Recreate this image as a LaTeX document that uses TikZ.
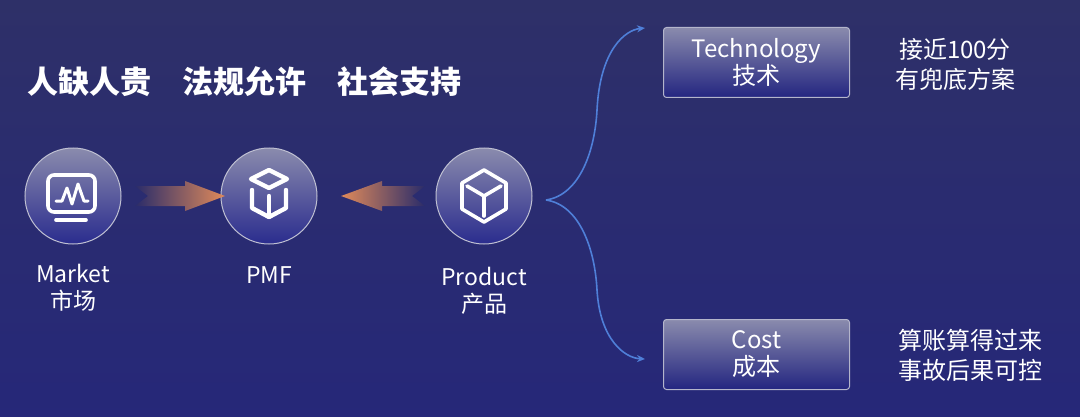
\documentclass[tikz,border=0pt]{standalone}
\usepackage{fontspec}
\setmainfont{Noto Sans CJK SC}
\usetikzlibrary{arrows.meta}
\definecolor{bg}{HTML}{2A2C6A}
\definecolor{bgtop}{HTML}{2E3068}
\definecolor{orng}{HTML}{E08A5A}
\definecolor{lnk}{HTML}{4F7FD8}
\begin{document}
\begin{tikzpicture}[x=0.5pt,y=-0.5pt,
  circ/.style={circle,minimum size=48pt,inner sep=0pt,draw=white!70!bg,line width=0.5pt,top color=white!45!bg,bottom color=white!5!bg!80!blue},
  box/.style={rectangle,rounded corners=1.5pt,minimum width=93pt,minimum height=35pt,draw=white!65!bg,line width=0.5pt,top color=white!45!bg,bottom color=bg!85!blue,align=center,text=white,font=\fontsize{12}{13.5}\selectfont},
  lab/.style={text=white,align=center,font=\fontsize{11.5}{13.5}\selectfont},
  note/.style={text=white,align=center,font=\fontsize{12}{15}\selectfont},
  icon/.style={draw=white,line width=1.8pt,line join=round,line cap=round},
  link/.style={draw=lnk,line width=0.8pt,-{Stealth[length=4pt,width=3.5pt]}}]
\useasboundingbox (0,0) rectangle (1080,417);
\shade[top color=bgtop,bottom color=bg!90!blue] (0,0) rectangle (1080,417);
\node[text=white,font=\fontsize{15.5}{17}\bfseries\selectfont,anchor=west] (title) at (20,82) {人缺人贵\quad 法规允许\quad 社会支持};
\node[circ] (m) at (73,196) {};
\node[circ] (p) at (269,196) {};
\node[circ] (r) at (484,196) {};
\node[lab] (ml) at (73,288) {Market\\市场};
\node[lab] (pl) at (269,275) {PMF};
\node[lab] (rl) at (484,291) {Product\\产品};
% market icon
\draw[icon,rounded corners=3pt] (48,175) rectangle (95,212);
\draw[icon,line width=1.5pt] (56,201) -- (62,201) -- (67,188) -- (72,204) -- (78,184) -- (84,201) -- (88,201);
\draw[icon] (56,220) -- (86,220);
% PMF icon (open box)
\draw[icon,line width=2.2pt] (269,170) -- (287,179) -- (269,188) -- (251,179) -- cycle;
\draw[icon,line width=2.2pt] (252,190) -- (252,208) -- (269,217) -- (286,208) -- (286,190);
\draw[icon,line width=2.2pt] (269,196) -- (269,217);
% product icon (cube)
\draw[icon] (484,170) -- (506,183) -- (506,209) -- (484,222) -- (462,209) -- (462,183) -- cycle;
\draw[icon] (467,186) -- (484,196) -- (501,186);
\draw[icon] (484,196) -- (484,216);
% gradient arrows
\shade[left color=bg,right color=orng] (135,186) -- (185,186) -- (185,181) -- (225,196) -- (185,211) -- (185,206) -- (135,206) -- (148,196) -- cycle;
\shade[left color=orng,right color=bg] (425,186) -- (382,186) -- (382,181) -- (341,196) -- (382,211) -- (382,206) -- (425,206) -- (412,196) -- cycle;
% boxes
\node[box] (t) at (756.5,62.5) {Technology\\技术};
\node[box] (c) at (756.5,354.5) {Cost\\成本};
\node[note] (tn) at (955,64) {接近100分\\有兜底方案};
\node[note] (cn) at (970,355) {算账算得过来\\事故后果可控};
% brace connectors
\coordinate (b) at (546,200);
\draw[link] (b) .. controls (580,195) and (595,150) .. (597,110) .. controls (600,50) and (625,30) .. (645,28);
\draw[link] (b) .. controls (580,205) and (595,250) .. (597,290) .. controls (600,340) and (625,358) .. (645,359);
\end{tikzpicture}
\end{document}
